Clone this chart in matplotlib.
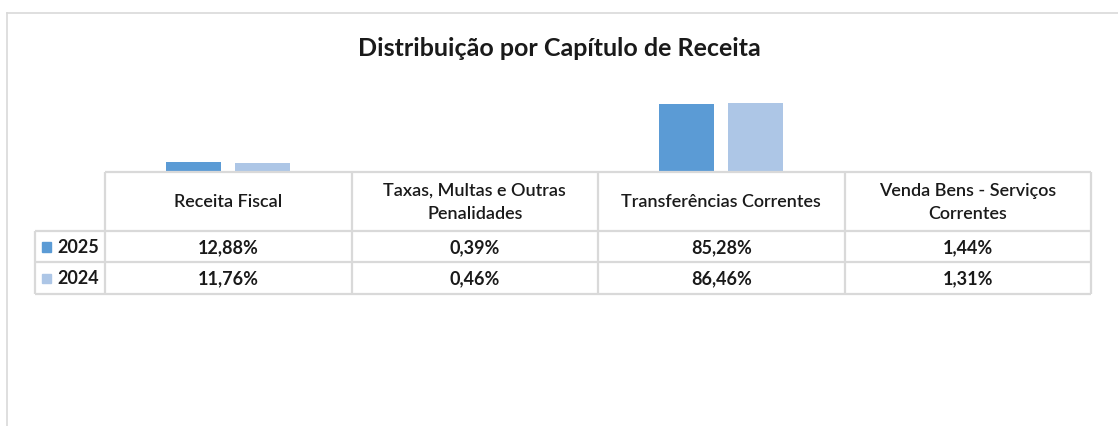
import numpy as np
import matplotlib.pyplot as plt
from matplotlib.lines import Line2D
from matplotlib.patches import Rectangle

plt.rcParams['font.family'] = ['Lato', 'DejaVu Sans']

categories = ["Receita Fiscal", "Taxas, Multas e Outras\nPenalidades",
              "Transferências Correntes", "Venda Bens - Serviços\nCorrentes"]
series_names = ["2025", "2024"]
values_2025 = [12.88, 0.39, 85.28, 1.44]
values_2024 = [11.76, 0.46, 86.46, 1.31]
colors = ["#5B9BD5", "#ADC6E6"]
grid_color = "#D9D9D9"

W, H = 1118, 427
fig = plt.figure(figsize=(W / 100, H / 100), dpi=100)

def px_rect(x0, y0, x1, y1):
    # pixel box (top-left origin) -> figure fraction
    return [x0 / W, 1 - y1 / H, (x1 - x0) / W, (y1 - y0) / H]

# outer chart frame
fig.add_artist(Line2D([7 / W, 1], [1 - 14 / H, 1 - 14 / H], color=grid_color, lw=1.2))
fig.add_artist(Line2D([7 / W, 7 / W], [0, 1 - 14 / H], color=grid_color, lw=1.2))

fig.text(0.5, 1 - 49 / H, "Distribuição por Capítulo de Receita", ha="center", va="center",
         fontsize=18, fontweight="bold", color="#1a1a1a")

# bars
ax = fig.add_axes(px_rect(105, 93, 1091, 173))
x = np.arange(len(categories))
w = 0.223
ax.bar(x - 0.14, values_2025, w, color=colors[0])
ax.bar(x + 0.14, values_2024, w, color=colors[1])
ax.set_xlim(-0.5, len(categories) - 0.5)
ax.set_ylim(0, 100)
ax.axis("off")

# data table
leg_w = 70 / 246.5
tx = fig.add_axes(px_rect(35, 173, 1091, 296))
tx.set_xlim(-0.5 - leg_w, len(categories) - 0.5)
tx.set_ylim(123, 0)
tx.axis("off")
rows_y = [0, 59, 90, 122]
left = -0.5 - leg_w
right = len(categories) - 0.5
lk = dict(color=grid_color, lw=1.6, solid_capstyle="butt", clip_on=False)
tx.plot([-0.5, right], [rows_y[0], rows_y[0]], **lk)
for yy in rows_y[1:]:
    tx.plot([left, right], [yy, yy], **lk)
tx.plot([left, left], [rows_y[1], rows_y[3]], **lk)
for i in range(len(categories) + 1):
    tx.plot([i - 0.5, i - 0.5], [rows_y[0], rows_y[3]], **lk)

for i, c in enumerate(categories):
    tx.text(i, (rows_y[0] + rows_y[1]) / 2, c, ha="center", va="center",
            fontsize=13, fontweight=600, color="#1a1a1a", linespacing=1.6)

for r, (name, vals, col) in enumerate(zip(series_names, [values_2025, values_2024], colors)):
    yc = (rows_y[r + 1] + rows_y[r + 2]) / 2
    tx.add_patch(Rectangle((left + 0.028, yc - 4.5), 0.038, 9.5, color=col, clip_on=False))
    tx.text(left + 0.09, yc, name, ha="left", va="center", fontsize=13,
            fontweight="bold", color="#1a1a1a")
    for i, v in enumerate(vals):
        tx.text(i, yc, f"{v:.2f}".replace(".", ",") + "%", ha="center", va="center",
                fontsize=13, fontweight="bold", color="#1a1a1a")

fig.savefig("out.png", dpi=100)
